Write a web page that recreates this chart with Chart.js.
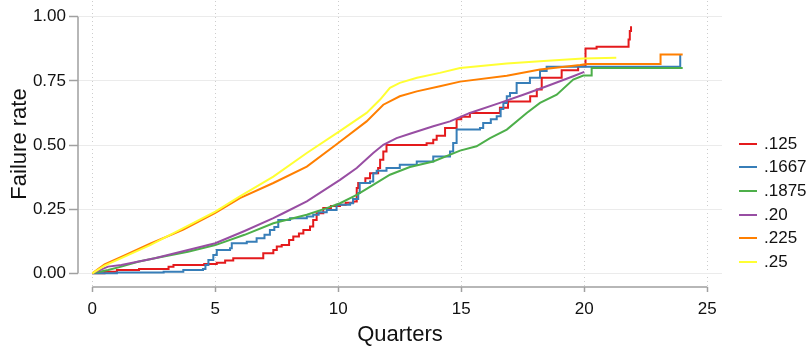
<!DOCTYPE html>
<html lang="en">
<head>
<meta charset="UTF-8">
<title>Failure rate by quarter</title>
<script src="https://cdn.jsdelivr.net/npm/chart.js@4"></script>
<style>
  body { margin: 0; background: #fff; font-family: "Liberation Sans", Arial, sans-serif; }
  #wrap { position: relative; width: 810px; height: 347px; }
  #legend { position: absolute; left: 739px; top: 132px; }
  .item { display: flex; align-items: center; height: 23.6px; font-size: 17px; color: #111; }
  .swatch { width: 18px; height: 2px; margin-right: 7px; }
</style>
</head>
<body>
<div id="wrap">
  <canvas id="chart" width="810" height="347"></canvas>
  <div id="legend"></div>
</div>
<script>
// tick values
const quarterTicks = [0, 5, 10, 15, 20, 25];
const rateTicks = [0, 0.25, 0.5, 0.75, 1];

const seriesLabels = ['.125', '.1667', '.1875', '.20', '.225', '.25'];
const seriesColors = ['#e41a1c', '#377eb8', '#4daf4a', '#984ea3', '#ff7f00', '#ffff33'];
// step curves (value holds from x until the next x)
const steppedSeries = [true, true, false, false, false, false];

// .125
const x125 = [0, 0.5, 1.0, 1.9, 3.1, 3.3, 4.55, 5.06, 5.4, 5.73, 6.95, 7.36, 7.5, 7.7, 8.0, 8.17, 8.4, 8.58, 8.85, 8.98,
  9.12, 9.39, 9.7, 10.07, 10.3, 10.61, 10.75, 10.81, 11.1, 11.29, 11.62, 11.7, 11.83, 11.96, 13.59, 13.86, 14.0, 14.34, 14.81, 15.0,
  15.35, 16.57, 16.9, 17.8, 18.07, 18.27, 19.08, 19.75, 20.05, 20.5, 21.8, 21.85, 21.9];
const y125 = [0, 0.006, 0.013, 0.017, 0.026, 0.032, 0.036, 0.041, 0.05, 0.059, 0.078, 0.091, 0.104, 0.11, 0.13, 0.143, 0.155, 0.169, 0.182, 0.208,
  0.234, 0.254, 0.262, 0.267, 0.275, 0.28, 0.332, 0.352, 0.37, 0.39, 0.41, 0.443, 0.475, 0.50, 0.507, 0.52, 0.536, 0.566, 0.60, 0.61,
  0.625, 0.645, 0.67, 0.69, 0.716, 0.762, 0.791, 0.807, 0.876, 0.883, 0.911, 0.944, 0.963];

// .1667
const x1667 = [0, 1.0, 2.9, 3.7, 4.5, 4.6, 4.72, 4.92, 5.06, 5.6, 5.67, 6.28, 6.68, 7.0, 7.22, 7.4, 7.56, 8.04, 8.72, 8.98,
  9.2, 9.53, 9.93, 10.48, 10.6, 10.81, 10.87, 11.29, 11.42, 11.56, 11.96, 12.5, 13.19, 13.86, 14.54, 14.67, 14.81, 15.76, 15.89, 16.2,
  16.44, 16.6, 16.71, 16.85, 16.98, 17.25, 17.79, 18.2, 18.47, 23.9];
const y1667 = [0, 0.003, 0.006, 0.013, 0.017, 0.032, 0.052, 0.071, 0.091, 0.098, 0.117, 0.123, 0.137, 0.15, 0.169, 0.18, 0.208, 0.215, 0.221, 0.228,
  0.238, 0.247, 0.267, 0.273, 0.29, 0.3125, 0.352, 0.358, 0.39, 0.40, 0.41, 0.423, 0.436, 0.455, 0.475, 0.508, 0.56, 0.566, 0.586, 0.60,
  0.612, 0.64, 0.664, 0.69, 0.703, 0.742, 0.762, 0.788, 0.805, 0.853];

// .1875
const x1875 = [0, 0.64, 1.18, 1.86, 2.54, 3.89, 5.0, 6.19, 7.36, 8.72, 9.53, 10.07, 10.75, 11.42, 12.1, 12.91, 13.86, 14.95, 15.62, 16.17,
  16.85, 17.66, 18.2, 18.88, 19.55, 19.96, 20.3, 20.3, 24.0];
const y1875 = [0, 0.013, 0.026, 0.045, 0.059, 0.084, 0.11, 0.15, 0.195, 0.228, 0.254, 0.273, 0.306, 0.345, 0.384, 0.414, 0.436, 0.478, 0.495, 0.527,
  0.56, 0.625, 0.664, 0.696, 0.755, 0.771, 0.771, 0.80, 0.80];

// .20
const x20 = [0, 0.64, 1.18, 2.54, 3.89, 5.0, 6.19, 7.36, 7.76, 8.72, 10.07, 10.75, 11.42, 11.83, 12.37, 12.91, 13.86, 14.54, 15.35, 16.57,
  17.52, 18.47, 19.55, 20.0];
const y20 = [0, 0.026, 0.032, 0.059, 0.091, 0.117, 0.165, 0.215, 0.234, 0.28, 0.364, 0.41, 0.469, 0.501, 0.527, 0.544, 0.573, 0.592, 0.625, 0.664,
  0.696, 0.729, 0.768, 0.785];

// .225
const x225 = [0, 0.5, 1.2, 2.35, 3.7, 5.0, 6.0, 7.36, 8.72, 10.0, 11.15, 11.83, 12.5, 13.19, 14.13, 14.95, 16.85, 18.2, 19.83, 20.1,
  23.1, 23.1, 24.0];
const y225 = [0, 0.035, 0.065, 0.115, 0.17, 0.235, 0.293, 0.352, 0.416, 0.508, 0.592, 0.657, 0.69, 0.709, 0.729, 0.747, 0.77, 0.794, 0.812, 0.816,
  0.816, 0.853, 0.853];

// .25
const x25 = [0, 0.5, 1.2, 2.35, 3.7, 5.0, 6.0, 7.36, 8.72, 10.0, 11.15, 11.7, 12.1, 12.5, 13.2, 14.13, 14.95, 16.85, 18.2, 19.95, 21.3];
const y25 = [0, 0.03, 0.06, 0.11, 0.176, 0.24, 0.30, 0.377, 0.469, 0.55, 0.625, 0.677, 0.723, 0.742, 0.762, 0.781, 0.80, 0.818, 0.826, 0.837, 0.84];

const seriesX = [x125, x1667, x1875, x20, x225, x25];
const seriesY = [y125, y1667, y1875, y20, y225, y25];

const datasets = seriesLabels.map((label, i) => ({
  label: label,
  data: seriesX[i].map((x, j) => ({ x: x, y: seriesY[i][j] })),
  borderColor: seriesColors[i],
  borderWidth: 2,
  pointRadius: 0,
  stepped: steppedSeries[i],
  tension: 0,
  order: seriesLabels.length - i
}));

// axis lines only span the tick range, like the original
const axisLines = {
  id: 'axisLines',
  beforeDatasetsDraw(chart) {
    const { ctx, chartArea, scales } = chart;
    const x = scales.x, y = scales.y;
    ctx.save();
    ctx.strokeStyle = '#a0a0a0';
    ctx.lineWidth = 1.5;
    ctx.beginPath();
    ctx.moveTo(chartArea.left, y.getPixelForValue(rateTicks[rateTicks.length - 1]));
    ctx.lineTo(chartArea.left, y.getPixelForValue(rateTicks[0]));
    ctx.moveTo(x.getPixelForValue(quarterTicks[0]), chartArea.bottom);
    ctx.lineTo(x.getPixelForValue(quarterTicks[quarterTicks.length - 1]), chartArea.bottom);
    ctx.stroke();
    ctx.restore();
  }
};

Chart.defaults.font.family = '"Liberation Sans", Arial, sans-serif';
Chart.defaults.color = '#111';

new Chart(document.getElementById('chart'), {
  type: 'line',
  data: { datasets: datasets },
  options: {
    responsive: false,
    animation: false,
    layout: { padding: { top: 1, right: 88, left: 0, bottom: 0 } },
    plugins: { legend: { display: false }, tooltip: { enabled: false } },
    scales: {
      x: {
        type: 'linear',
        min: -0.581,
        max: 25.598,
        afterBuildTicks: s => { s.ticks = quarterTicks.map(v => ({ value: v })); },
        afterFit: s => { s.height = 60; s.paddingLeft = 0; s.paddingRight = 0; },
        grid: { color: '#cdcdcd', lineWidth: 1, tickLength: 5, tickColor: '#a0a0a0', tickWidth: 1.5 },
        border: { display: false, dash: [1, 3] },
        ticks: { font: { size: 17 }, color: '#111', padding: 7, maxRotation: 0, autoSkip: false, callback: v => String(v) },
        title: { display: true, text: 'Quarters', font: { size: 22, lineHeight: 1 }, color: '#111', padding: { top: 0, bottom: 1 } }
      },
      y: {
        type: 'linear',
        min: -0.0534,
        max: 1.0612,
        afterBuildTicks: s => { s.ticks = rateTicks.map(v => ({ value: v })); },
        afterFit: s => { s.width = 78; s.paddingTop = 0; s.paddingBottom = 0; },
        grid: { color: '#ebebeb', lineWidth: 1, tickLength: 9, tickColor: '#a0a0a0', tickWidth: 1.5 },
        border: { display: false },
        ticks: { font: { size: 17 }, color: '#111', padding: 3, callback: v => v.toFixed(2) },
        title: { display: true, text: 'Failure rate', font: { size: 22, lineHeight: 1 }, color: '#111', padding: { top: 9, bottom: 0 } }
      }
    }
  },
  plugins: [axisLines]
});

// legend
const legend = document.getElementById('legend');
seriesLabels.forEach((label, i) => {
  const item = document.createElement('div');
  item.className = 'item';
  item.innerHTML = '<span class="swatch" style="background:' + seriesColors[i] + '"></span>' + label;
  legend.appendChild(item);
});
</script>
</body>
</html>
